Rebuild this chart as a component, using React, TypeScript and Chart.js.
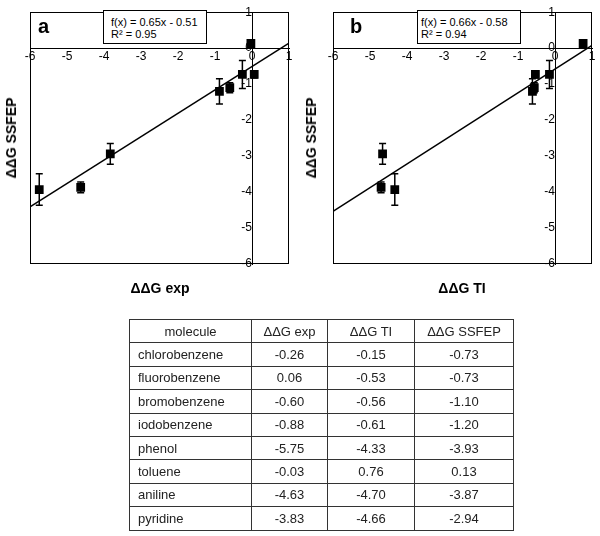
import React, { useEffect, useRef } from 'react';
import { Chart, registerables } from 'chart.js';

Chart.register(...registerables);

const molecules = ['chlorobenzene', 'fluorobenzene', 'bromobenzene', 'iodobenzene', 'phenol', 'toluene', 'aniline', 'pyridine'];
const ddgExp = [-0.26, 0.06, -0.6, -0.88, -5.75, -0.03, -4.63, -3.83];
const ddgTI = [-0.15, -0.53, -0.56, -0.61, -4.33, 0.76, -4.7, -4.66];
const ddgSSFEP = [-0.73, -0.73, -1.1, -1.2, -3.93, 0.13, -3.87, -2.94];
const ssfepErr = [0.39, 0.1, 0.14, 0.35, 0.44, 0.03, 0.15, 0.29];
const fitA = [0.65, -0.51];
const fitB = [0.66, -0.58];
const fitLabelsA = ['f(x) = 0.65x - 0.51', 'R² = 0.95'];
const fitLabelsB = ['f(x) = 0.66x - 0.58', 'R² = 0.94'];
const headers = ['molecule', 'ΔΔG exp', 'ΔΔG TI', 'ΔΔG SSFEP'];
const axisMin = -6;
const axisMax = 1;

const FONT = "'Liberation Sans', Arial, sans-serif";

const errorBarPlugin = {
  id: 'errbars',
  afterDatasetsDraw(chart: any, _args: any, opts: any) {
    const { ctx, scales } = chart;
    const x = scales.x;
    const y = scales.y;
    const ds = chart.data.datasets[0];
    const errs: number[] = opts.errors || [];
    ctx.save();
    ctx.strokeStyle = '#000';
    ctx.lineWidth = 1.5;
    ds.data.forEach((p: any, i: number) => {
      const e = errs[i];
      if (!e) return;
      const px = x.getPixelForValue(p.x);
      const top = y.getPixelForValue(p.y + e);
      const bot = y.getPixelForValue(p.y - e);
      const cap = 3.5;
      ctx.beginPath();
      ctx.moveTo(px, top);
      ctx.lineTo(px, bot);
      ctx.moveTo(px - cap, top);
      ctx.lineTo(px + cap, top);
      ctx.moveTo(px - cap, bot);
      ctx.lineTo(px + cap, bot);
      ctx.stroke();
    });
    ctx.restore();
  },
};

const framePlugin = {
  id: 'frame',
  afterDraw(chart: any) {
    const { ctx, chartArea } = chart;
    ctx.save();
    ctx.strokeStyle = '#000';
    ctx.lineWidth = 1;
    const l = Math.round(chartArea.left) + 0.5;
    const t = Math.round(chartArea.top) + 0.5;
    const r = Math.round(chartArea.right) - 0.5;
    const b = Math.round(chartArea.bottom) - 0.5;
    ctx.strokeRect(l, t, r - l, b - t);
    ctx.restore();
  },
};

function ScatterPanel(props: { xs: number[]; fit: number[]; padLeft: number; padRight: number }) {
  const ref = useRef<HTMLCanvasElement | null>(null);
  useEffect(() => {
    if (!ref.current) return;
    const pts = props.xs.map((xv, i) => ({ x: xv, y: ddgSSFEP[i] }));
    const trend = [axisMin, axisMax].map((xv) => ({ x: xv, y: props.fit[0] * xv + props.fit[1] }));
    const chart = new Chart(ref.current, {
      type: 'scatter',
      data: {
        datasets: [
          {
            data: pts,
            pointStyle: 'rect',
            pointRadius: 6.2,
            backgroundColor: '#000',
            borderColor: '#000',
            borderWidth: 0,
            showLine: false,
          } as any,
          {
            data: trend,
            showLine: true,
            borderColor: '#000',
            borderWidth: 1.5,
            pointRadius: 0,
            fill: false,
          } as any,
        ],
      },
      options: {
        animation: false,
        responsive: false,
        events: [],
        layout: { padding: { left: props.padLeft, right: props.padRight, top: 10, bottom: 36 } },
        plugins: {
          legend: { display: false },
          tooltip: { enabled: false },
          errbars: { errors: ssfepErr },
        } as any,
        scales: {
          x: {
            type: 'linear',
            min: axisMin,
            max: axisMax,
            position: { y: 0 } as any,
            grid: { display: false, drawTicks: false },
            border: { display: true, color: '#000', width: 1 },
            ticks: { stepSize: 1, color: '#000', padding: 1, font: { family: FONT, size: 12 } },
          },
          y: {
            type: 'linear',
            min: axisMin,
            max: axisMax,
            position: { x: 0 } as any,
            grid: { display: false, drawTicks: false },
            border: { display: true, color: '#000', width: 1 },
            ticks: { stepSize: 1, color: '#000', padding: 5, font: { family: FONT, size: 12 } },
          },
        },
      },
      plugins: [errorBarPlugin, framePlugin],
    });
    return () => chart.destroy();
  }, []);
  return <canvas ref={ref} width={300} height={300} style={{ width: 300, height: 300, display: 'block' }} />;
}

const abs = (o: any): React.CSSProperties => ({ position: 'absolute', ...o });

function FitBox(props: { left: number; padLeft: number; lines: string[] }) {
  return (
    <div
      style={abs({
        left: props.left,
        top: 10,
        width: 104,
        height: 34,
        boxSizing: 'border-box',
        border: '1px solid #000',
        background: '#fff',
        fontFamily: FONT,
        fontSize: 11,
        lineHeight: '12px',
        paddingTop: 5,
        paddingLeft: props.padLeft,
        color: '#000',
        whiteSpace: 'nowrap',
      })}
    >
      {props.lines.map((l, i) => (
        <div key={i}>{l}</div>
      ))}
    </div>
  );
}

export default function App() {
  const rows = molecules.map((m, i) => [m, ddgExp[i].toFixed(2), ddgTI[i].toFixed(2), ddgSSFEP[i].toFixed(2)]);
  const colW = [122, 76, 87, 99];
  const cell: React.CSSProperties = {
    border: '1px solid #333',
    height: '22.4px',
    padding: 0,
    textAlign: 'center',
    fontFamily: FONT,
    fontSize: 13,
    color: '#222',
  };
  const bold: React.CSSProperties = { fontFamily: FONT, fontWeight: 'bold', color: '#000', whiteSpace: 'nowrap' };
  return (
    <div style={abs({ left: 0, top: 0, width: 600, height: 536, background: '#fff', overflow: 'hidden' })}>
      <div style={abs({ left: 0, top: 0 })}>
        <ScatterPanel xs={ddgExp} fit={fitA} padLeft={30} padRight={11} />
      </div>
      <div style={abs({ left: 300, top: 0 })}>
        <ScatterPanel xs={ddgTI} fit={fitB} padLeft={33} padRight={8} />
      </div>
      <FitBox left={103} padLeft={7} lines={fitLabelsA} />
      <FitBox left={417} padLeft={3} lines={fitLabelsB} />
      <div style={abs({ ...bold, left: 38, top: 16, fontSize: 20, lineHeight: '20px' })}>a</div>
      <div style={abs({ ...bold, left: 350, top: 16, fontSize: 20, lineHeight: '20px' })}>b</div>
      <div style={abs({ ...bold, left: 160, top: 281, fontSize: 14, lineHeight: '14px', transform: 'translateX(-50%)' })}>ΔΔG exp</div>
      <div style={abs({ ...bold, left: 462, top: 281, fontSize: 14, lineHeight: '14px', transform: 'translateX(-50%)' })}>ΔΔG TI</div>
      <div style={abs({ ...bold, left: 11, top: 138, fontSize: 14, lineHeight: '14px', transform: 'translate(-50%, -50%) rotate(-90deg)' })}>ΔΔG SSFEP</div>
      <div style={abs({ ...bold, left: 311, top: 138, fontSize: 14, lineHeight: '14px', transform: 'translate(-50%, -50%) rotate(-90deg)' })}>ΔΔG SSFEP</div>
      <table
        style={abs({
          left: 129,
          top: 319,
          width: 384,
          borderCollapse: 'collapse',
          tableLayout: 'fixed',
          border: '1px solid #333',
        })}
      >
        <colgroup>
          {colW.map((w, i) => (
            <col key={i} style={{ width: w }} />
          ))}
        </colgroup>
        <tbody>
          <tr>
            {headers.map((h, i) => (
              <td key={i} style={cell}>
                {h}
              </td>
            ))}
          </tr>
          {rows.map((r, ri) => (
            <tr key={ri}>
              {r.map((v, ci) => (
                <td key={ci} style={ci === 0 ? { ...cell, textAlign: 'left', paddingLeft: 8 } : cell}>
                  {v}
                </td>
              ))}
            </tr>
          ))}
        </tbody>
      </table>
    </div>
  );
}
